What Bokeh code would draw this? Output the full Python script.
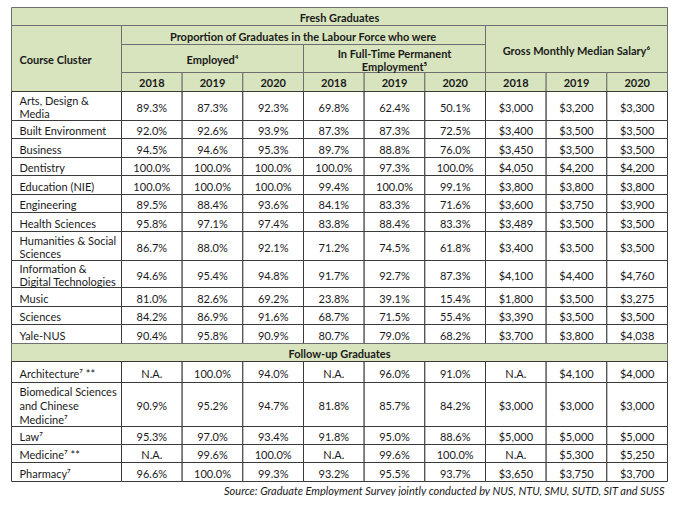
from bokeh.plotting import figure
from bokeh.models import ColumnDataSource, Range1d
from bokeh.core.properties import value
from bokeh.embed import file_html
from bokeh.resources import INLINE

# ---------------- data ----------------
title_main = "Fresh Graduates"
title_fu = "Follow-up Graduates"
col_course = "Course Cluster"
grp_prop = "Proportion of Graduates in the Labour Force who were"
grp_emp = "Employed\u2074"
grp_ftp = "In Full-Time Permanent\nEmployment\u2075"
grp_sal = "Gross Monthly Median Salary\u2076"
years = ["2018", "2019", "2020"]
source_note = "Source: Graduate Employment Survey jointly conducted by NUS, NTU, SMU, SUTD, SIT and SUSS"

courses_fresh = ["Arts, Design &\nMedia", "Built Environment", "Business", "Dentistry",
                 "Education (NIE)", "Engineering", "Health Sciences",
                 "Humanities & Social\nSciences", "Information &\nDigital Technologies",
                 "Music", "Sciences", "Yale-NUS"]
emp18 = ["89.3%", "92.0%", "94.5%", "100.0%", "100.0%", "89.5%", "95.8%", "86.7%", "94.6%", "81.0%", "84.2%", "90.4%"]
emp19 = ["87.3%", "92.6%", "94.6%", "100.0%", "100.0%", "88.4%", "97.1%", "88.0%", "95.4%", "82.6%", "86.9%", "95.8%"]
emp20 = ["92.3%", "93.9%", "95.3%", "100.0%", "100.0%", "93.6%", "97.4%", "92.1%", "94.8%", "69.2%", "91.6%", "90.9%"]
ftp18 = ["69.8%", "87.3%", "89.7%", "100.0%", "99.4%", "84.1%", "83.8%", "71.2%", "91.7%", "23.8%", "68.7%", "80.7%"]
ftp19 = ["62.4%", "87.3%", "88.8%", "97.3%", "100.0%", "83.3%", "88.4%", "74.5%", "92.7%", "39.1%", "71.5%", "79.0%"]
ftp20 = ["50.1%", "72.5%", "76.0%", "100.0%", "99.1%", "71.6%", "83.3%", "61.8%", "87.3%", "15.4%", "55.4%", "68.2%"]
sal18 = ["$3,000", "$3,400", "$3,450", "$4,050", "$3,800", "$3,600", "$3,489", "$3,400", "$4,100", "$1,800", "$3,390", "$3,700"]
sal19 = ["$3,200", "$3,500", "$3,500", "$4,200", "$3,800", "$3,750", "$3,500", "$3,500", "$4,400", "$3,500", "$3,500", "$3,800"]
sal20 = ["$3,300", "$3,500", "$3,500", "$4,200", "$3,800", "$3,900", "$3,500", "$3,500", "$4,760", "$3,275", "$3,500", "$4,038"]

courses_fu = ["Architecture\u2077 **", "Biomedical Sciences\nand Chinese\nMedicine\u2077",
              "Law\u2077", "Medicine\u2077 **", "Pharmacy\u2077"]
fu_emp18 = ["N.A.", "90.9%", "95.3%", "N.A.", "96.6%"]
fu_emp19 = ["100.0%", "95.2%", "97.0%", "99.6%", "100.0%"]
fu_emp20 = ["94.0%", "94.7%", "93.4%", "100.0%", "99.3%"]
fu_ftp18 = ["N.A.", "81.8%", "91.8%", "N.A.", "93.2%"]
fu_ftp19 = ["96.0%", "85.7%", "95.0%", "99.6%", "95.5%"]
fu_ftp20 = ["91.0%", "84.2%", "88.6%", "100.0%", "93.7%"]
fu_sal18 = ["N.A.", "$3,000", "$5,000", "N.A.", "$3,650"]
fu_sal19 = ["$4,100", "$3,000", "$5,000", "$5,300", "$3,750"]
fu_sal20 = ["$4,000", "$3,000", "$5,000", "$5,250", "$3,700"]

# ---------------- layout ----------------
W, H = 668, 496
ORG = 1
X0 = 12.0
FIRST_W = 110.0
X_END = 668.0
NCOL = 9
COL_W = (X_END - X0 - FIRST_W) / NCOL
col_edges = [X0, X0 + FIRST_W] + [X0 + FIRST_W + COL_W * (i + 1) for i in range(NCOL)]
hdr_y = [8, 26, 45, 73, 92]
row_h_fresh = [29, 18, 19, 18, 19, 18, 19, 29, 27, 19, 18, 19]
fu_hdr_h = 18
row_h_fu = [21, 44, 18, 18, 19]
LH = 13.0
DY = 1.0

GREEN = "#d7e4bd"
LINE_HDR = "#6e6e6e"
LINE_BODY = "#3a3a3a"
FONT = value("Lato")
FS = "11px"

cells = dict(left=[], right=[], top=[], bottom=[], fill=[], line=[])
texts = dict(x=[], y=[], text=[], align=[], style=[])


def cell(l, r, t, b, fill, line):
    cells["left"].append(l); cells["right"].append(r)
    cells["top"].append(t); cells["bottom"].append(b)
    cells["fill"].append(fill); cells["line"].append(line)


def txt(x, y, s, align="center", style="normal"):
    lines = s.split("\n")
    n = len(lines)
    lh = LH if n < 3 else 14.0
    for j, ln in enumerate(lines):
        texts["x"].append(x)
        texts["y"].append(y + DY + (j - (n - 1) / 2.0) * lh)
        texts["text"].append(ln)
        texts["align"].append(align); texts["style"].append(style)


def mid(a, b):
    return (a + b) / 2.0


# header
cell(X0, X_END, hdr_y[0], hdr_y[1], GREEN, LINE_HDR)
txt(mid(X0, X_END), mid(hdr_y[0], hdr_y[1]), title_main, style="bold")
cell(col_edges[0], col_edges[1], hdr_y[1], hdr_y[4], GREEN, LINE_HDR)
txt(X0 + 8, mid(hdr_y[1], hdr_y[4]), col_course, align="left", style="bold")
cell(col_edges[1], col_edges[7], hdr_y[1], hdr_y[2], GREEN, LINE_HDR)
txt(mid(col_edges[1], col_edges[7]), mid(hdr_y[1], hdr_y[2]), grp_prop, style="bold")
cell(col_edges[1], col_edges[4], hdr_y[2], hdr_y[3], GREEN, LINE_HDR)
txt(mid(col_edges[1], col_edges[4]), mid(hdr_y[2], hdr_y[3]), grp_emp, style="bold")
cell(col_edges[4], col_edges[7], hdr_y[2], hdr_y[3], GREEN, LINE_HDR)
txt(mid(col_edges[4], col_edges[7]), mid(hdr_y[2], hdr_y[3]), grp_ftp, style="bold")
cell(col_edges[7], col_edges[10], hdr_y[1], hdr_y[3], GREEN, LINE_HDR)
txt(mid(col_edges[7], col_edges[10]), mid(hdr_y[1], hdr_y[3]), grp_sal, style="bold")
for i in range(NCOL):
    l, r = col_edges[i + 1], col_edges[i + 2]
    cell(l, r, hdr_y[3], hdr_y[4], GREEN, LINE_HDR)
    txt(mid(l, r), mid(hdr_y[3], hdr_y[4]), years[i % 3], style="bold")


def body(names, cols, heights, y):
    for k, name in enumerate(names):
        t, b = y, y + heights[k]
        cell(col_edges[0], col_edges[1], t, b, "white", LINE_BODY)
        txt(X0 + 8, mid(t, b), name, align="left")
        for i, c in enumerate(cols):
            l, r = col_edges[i + 1], col_edges[i + 2]
            cell(l, r, t, b, "white", LINE_BODY)
            txt(mid(l, r), mid(t, b), c[k])
        y = b
    return y


y = body(courses_fresh, [emp18, emp19, emp20, ftp18, ftp19, ftp20, sal18, sal19, sal20],
         row_h_fresh, hdr_y[4])
cell(X0, X_END, y, y + fu_hdr_h, GREEN, LINE_HDR)
txt(mid(X0, X_END), mid(y, y + fu_hdr_h), title_fu, style="bold")
y += fu_hdr_h
y = body(courses_fu, [fu_emp18, fu_emp19, fu_emp20, fu_ftp18, fu_ftp19, fu_ftp20,
                      fu_sal18, fu_sal19, fu_sal20], row_h_fu, y)

p = figure(width=W, height=H, output_backend="svg", toolbar_location=None,
           x_range=Range1d(ORG, ORG + W), y_range=Range1d(ORG + H, ORG),
           min_border=0, outline_line_color=None)
p.axis.visible = False
p.grid.visible = False
p.background_fill_color = "white"
p.border_fill_color = "white"

p.quad(left="left", right="right", top="top", bottom="bottom", fill_color="fill",
       line_color="line", line_width=1, source=ColumnDataSource(cells))
p.text(x="x", y="y", text="text", text_align="align", text_font_style="style",
       text_baseline="middle", text_font=FONT, text_font_size=FS, text_color="#1a1a1a",
       source=ColumnDataSource(texts))
p.text(x=[X_END - 2], y=[y + 9], text=[source_note], text_align="right",
       text_baseline="middle", text_font=FONT, text_font_size=FS,
       text_font_style="italic", text_color="#1a1a1a")

open("out.html", "w").write(file_html(p, INLINE))
